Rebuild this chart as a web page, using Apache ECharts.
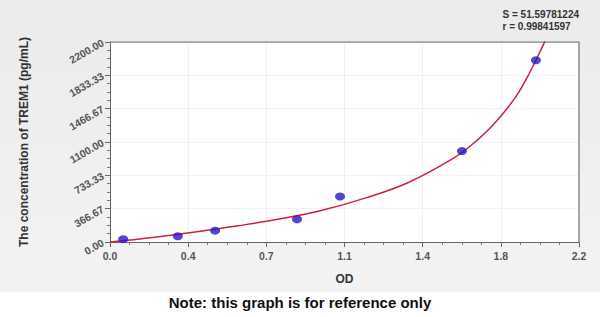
<!DOCTYPE html>
<html>
<head>
<meta charset="utf-8">
<script src="https://cdn.jsdelivr.net/npm/echarts@6/dist/echarts.min.js"></script>
<style>
html,body{margin:0;padding:0;background:#ffffff;}
#c{width:600px;height:317px;}
</style>
</head>
<body>
<div id="c"></div>
<script>
// Standard points (OD, concentration pg/mL)
var pointOD = [0.062, 0.318, 0.493, 0.877, 1.079, 1.651, 1.998];
var pointConc = [31.25, 62.5, 125, 250, 500, 1000, 2000];

// Fitted curve
var curveOD = [0, 0.2, 0.4, 0.6, 0.8, 1.0, 1.2, 1.4, 1.6, 1.7, 1.8, 1.9, 1.95, 2.0, 2.04];
var curveConc = [0, 50, 110, 178, 255, 352, 485, 655, 905, 1075, 1295, 1585, 1780, 2010, 2207];

// Axis settings and tick labels
var xMin = 0, xMax = 2.2, xStep = 2.2 / 6;
var yMin = 0, yMax = 2200, yStep = 2200 / 6;
var xTickLabels = ['0.0', '0.4', '0.7', '1.1', '1.4', '1.8', '2.2'];
var yTickLabels = ['0.00', '366.67', '733.33', '1100.00', '1466.67', '1833.33', '2200.00'];

var statS = 'S = 51.59781224';
var statR = 'r = 0.99841597';
var xName = 'OD';
var yName = 'The concentration of TREM1 (pg/mL)';
var noteText = 'Note: this graph is for reference only';

function zip(a, b) { return a.map(function (v, i) { return [v, b[i]]; }); }

var chart = echarts.init(document.getElementById('c'), null, {renderer: 'svg'});
var font = '"Liberation Sans", Arial, sans-serif';

chart.setOption({
  backgroundColor: '#ffffff',
  animation: false,
  grid: {left: 110, right: 21, top: 42, bottom: 75, show: true, backgroundColor: '#ffffff', borderColor: 'transparent'},
  graphic: [
    {type: 'rect', z: -10, silent: true, shape: {x: 0, y: 0, width: 600, height: 292},
     style: {fill: {type: 'linear', x: 0, y: 0, x2: 0, y2: 1, colorStops: [{offset: 0, color: '#ebebeb'}, {offset: 1, color: '#f3f3f3'}]}}},
    {type: 'text', right: 21, top: 8, z: 10, style: {text: statS + '\n' + statR, align: 'right', font: 'bold 10px ' + font, fill: '#333', lineHeight: 12}},
    {type: 'text', left: 'center', top: 295, z: 10, style: {text: noteText, font: 'bold 15px ' + font, fill: '#111'}}
  ],
  xAxis: {
    type: 'value', min: xMin, max: xMax, interval: xStep,
    name: xName, nameLocation: 'middle', nameGap: 31,
    nameTextStyle: {fontFamily: font, fontWeight: 'bold', fontSize: 12, color: '#333'},
    axisLine: {show: true, lineStyle: {color: '#666', width: 1}},
    axisTick: {show: true, length: 5, lineStyle: {color: '#666'}},
    minorTick: {show: true, splitNumber: 4, length: 3, lineStyle: {color: '#777'}},
    axisLabel: {fontFamily: font, fontWeight: 'bold', fontSize: 10.5, color: '#555', margin: 8,
      formatter: function (v) { return xTickLabels[Math.round(v / xStep)]; }},
    splitLine: {show: true, lineStyle: {color: '#f1f1f1', width: 1}}
  },
  yAxis: {
    type: 'value', min: yMin, max: yMax, interval: yStep,
    name: yName, nameLocation: 'middle', nameGap: 80,
    nameTextStyle: {fontFamily: font, fontWeight: 'bold', fontSize: 12, color: '#333'},
    axisLine: {show: true, lineStyle: {color: '#666', width: 1}},
    axisTick: {show: true, length: 5, lineStyle: {color: '#666'}},
    minorTick: {show: true, splitNumber: 4, length: 3, lineStyle: {color: '#777'}},
    axisLabel: {fontFamily: font, fontWeight: 'bold', fontSize: 10.5, color: '#555', rotate: 30, margin: 7,
      formatter: function (v) { return yTickLabels[Math.round(v / yStep)]; }},
    splitLine: {show: true, lineStyle: {color: '#f1f1f1', width: 1}}
  },
  series: [
    {
      type: 'line', data: zip(curveOD, curveConc), smooth: 0.4, showSymbol: false, symbol: 'none',
      lineStyle: {color: '#cc2040', width: 1.5}, z: 3, clip: true
    },
    {
      type: 'scatter', data: zip(pointOD, pointConc), symbol: 'circle', symbolSize: [10, 8],
      itemStyle: {color: '#2a14c8'}, z: 4
    },
    // frame: top and right borders
    {
      type: 'line', data: [[xMin, yMax], [xMax, yMax], [xMax, yMin]], symbol: 'none', silent: true,
      lineStyle: {color: '#8a8a8a', width: 1.5}, z: 2
    }
  ]
});
</script>
</body>
</html>
